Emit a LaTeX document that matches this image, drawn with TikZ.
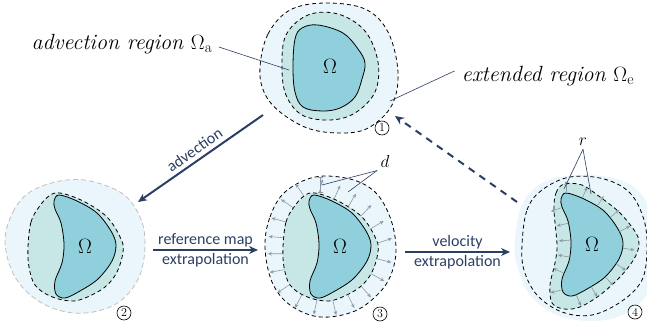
\documentclass[tikz,border=0pt]{standalone}
\usepackage{fontspec}
\setsansfont{Carlito}
\usetikzlibrary{arrows.meta,decorations.markings}

\definecolor{omegablue}{HTML}{8FD0DC}
\definecolor{ringteal}{HTML}{C7E6E6}
\definecolor{extblue}{HTML}{EAF6FB}
\definecolor{navy}{HTML}{2C3E64}
\definecolor{tickgray}{HTML}{8C99A6}

\begin{document}
\begin{tikzpicture}[x=1pt, y=-1pt]
  \tikzset{
    shape_extra/.style={},
    omega_fill/.style={fill=omegablue, draw=black, line width=0.8pt},
    ring_fill/.style={fill=ringteal, draw=black, line width=0.8pt, dash pattern=on 4pt off 3pt},
    ext_fill/.style={fill=extblue, draw=black, line width=0.8pt, dash pattern=on 4pt off 3pt},
    ext_gray/.style={fill=extblue, draw=black!25, line width=0.8pt, dash pattern=on 5pt off 3pt},
    flow_arrow/.style={navy, line width=2pt, -{Stealth[length=9pt, width=8pt]}},
    back_arrow/.style={flow_arrow, dash pattern=on 7pt off 6pt},
    label_line/.style={navy, line width=0.6pt},
    tick_arrow/.style={tickgray, line width=0.6pt, solid, -{Stealth[length=4pt, width=3.5pt]}},
    tick_marks/.style 2 args={postaction={decorate, decoration={markings,
      mark=between positions 0 and 0.99 step #1 with {\draw[tick_arrow] (0pt,0pt) -- (0pt,#2);}}}},
    region_label/.style={font=\itshape\fontsize{22}{24}\selectfont},
    omega_label/.style={font=\fontsize{21}{21}\selectfont},
    flow_label/.style={font=\sffamily\fontsize{16}{16}\selectfont, inner sep=2pt},
    step_num/.style={circle, draw=black, line width=0.6pt, inner sep=0pt, minimum size=14pt,
      font=\fontsize{12}{12}\selectfont},
    % shapes, relative to the centre of each panel
    top_omega/.pic={\path[pic actions, shape_extra] plot[smooth cycle, tension=0.6] coordinates {
      (-37,0) (-35,-28) (-28,-39) (-12,-42) (13,-34) (28,-18) (35,-4) (32,12)
      (25,30) (10,41) (-8,44) (-27,40) (-35,25)};},
    top_ring/.pic={\path[pic actions, shape_extra] plot[smooth cycle, tension=0.6] coordinates {
      (-48,0) (-44,-32) (-22,-52) (8,-53) (35,-36) (48,-5) (45,25) (25,46)
      (0,53) (-28,48) (-44,28)};},
    top_ext/.pic={\path[pic actions, shape_extra] plot[smooth cycle, tension=0.6] coordinates {
      (-70,0) (-62,-33) (-40,-57) (-5,-64) (35,-58) (58,-35) (68,5) (62,38)
      (40,60) (15,66) (-20,62) (-50,45) (-66,25)};},
    crescent/.pic={\path[pic actions, shape_extra] plot[smooth cycle, tension=0.55] coordinates {
      (-31,-46) (-26,-52) (-8,-46) (12,-34) (26,-16) (31,-2) (27,14) (13,32)
      (-5,44) (-20,51) (-29,47) (-30,34) (-23,16) (-21,-3) (-24,-24) (-30,-38)};},
    cres_ring/.pic={\path[pic actions, shape_extra] plot[smooth cycle, tension=0.6] coordinates {
      (-57,0) (-54,-25) (-46,-40) (-36,-51) (-25,-54) (-2,-46) (22,-30) (36,-8)
      (38,5) (32,25) (20,40) (0,51) (-15,54) (-35,49) (-50,38) (-56,20)};},
    cres_ext2/.pic={\path[pic actions, shape_extra] plot[smooth cycle, tension=0.6] coordinates {
      (-80,-5) (-72,-35) (-55,-55) (-25,-66) (5,-66) (38,-53) (55,-30) (60,-5)
      (56,25) (42,48) (20,62) (-12,66) (-45,55) (-70,30)};},
    cres_ext3/.pic={\path[pic actions, shape_extra] plot[smooth cycle, tension=0.6] coordinates {
      (-75,0) (-70,-30) (-55,-55) (-25,-70) (10,-68) (35,-55) (50,-30) (56,0)
      (52,25) (40,45) (15,64) (-20,70) (-50,58) (-68,35)};},
    p4_ring/.pic={\path[pic actions, shape_extra] plot[smooth cycle, tension=0.55] coordinates {
      (-38,-35) (-36,-52) (-28,-61) (-10,-60) (8,-48) (28,-32) (44,-12) (47,0)
      (42,14) (28,32) (8,50) (-12,62) (-28,64) (-40,58) (-42,40) (-37,18) (-35,0)};},
    p4_dash/.pic={\path[pic actions, shape_extra] plot[smooth cycle, tension=0.6] coordinates {
      (-70,0) (-65,-35) (-50,-55) (-22,-68) (12,-66) (38,-52) (52,-25) (55,5)
      (50,35) (30,56) (0,70) (-30,67) (-55,50) (-68,25)};},
    p4_ext/.pic={\path[pic actions, shape_extra] plot[smooth cycle, tension=0.6] coordinates {
      (-77,-5) (-70,-40) (-50,-62) (-15,-70) (25,-66) (50,-50) (62,-20) (65,20)
      (55,50) (30,70) (0,76) (-35,70) (-62,50) (-75,20)};}
  }
  \useasboundingbox (0,0) rectangle (647,329);

  % panel 1: initial state
  \pic[ext_fill] at (330,67) {top_ext};
  \pic[ring_fill] at (330,67) {top_ring};
  \pic[omega_fill] at (330,67) {top_omega};
  \node[omega_label] (om1) at (330,66) {$\Omega$};
  \node[step_num] (num1) at (382,128) {1};

  \node[region_label] (adv_lbl) at (122,44) {advection region $\Omega_{\mathrm{a}}$};
  \coordinate (adv_pt) at (289,70);
  \draw[label_line] ([xshift=3pt,yshift=-3pt]adv_lbl.east) -- (adv_pt);
  \node[region_label] (ext_lbl) at (548,76) {extended region $\Omega_{\mathrm{e}}$};
  \coordinate (ext_pt) at (390,101);
  \draw[label_line] ([xshift=-4pt,yshift=5pt]ext_lbl.west) -- (ext_pt);

  % panel 2: after advection
  \pic[ext_gray] at (85,247) {cres_ext2};
  \pic[ring_fill] at (85,247) {cres_ring};
  \pic[omega_fill] at (85,247) {crescent};
  \node[omega_label] (om2) at (85,246) {$\Omega$};
  \node[step_num] (num2) at (124,313) {2};

  % panel 3: reference map extrapolation
  \pic[ext_fill] at (340,247) {cres_ext3};
  \pic[ring_fill, shape_extra/.style={tick_marks={0.05}{15pt}}] at (340,247) {cres_ring};
  \pic[omega_fill] at (340,247) {crescent};
  \node[omega_label] (om3) at (340,246) {$\Omega$};
  \node[step_num] (num3) at (380,314) {3};
  \coordinate (d_top) at (320,177);
  \coordinate (d_bot) at (320,193);
  \draw[tickgray, line width=0.6pt, {Bar[width=5pt]}-{Bar[width=5pt]}] (d_bot) -- (d_top);
  \node[region_label, font=\itshape\fontsize{18}{18}\selectfont] (d_lbl) at (385,161) {$d$};
  \coordinate (d_pt1) at (322,185);
  \coordinate (d_pt2) at (348,192);
  \draw[label_line] (d_lbl.south west) -- (d_pt1);
  \draw[label_line] (d_lbl.south west) -- (d_pt2);

  % panel 4: velocity extrapolation
  \begin{scope}
    \clip (0,0) rectangle (647,329);
    \pic[fill=extblue] at (592,245) {p4_ext};
    \pic[draw=black, line width=0.8pt, dash pattern=on 4pt off 3pt] at (592,245) {p4_dash};
  \end{scope}
  \pic[ring_fill] at (592,245) {p4_ring};
  \pic[omega_fill, shape_extra/.style={tick_marks={0.0625}{12pt}}] at (592,245) {crescent};
  \node[omega_label] (om4) at (592,244) {$\Omega$};
  \node[step_num] (num4) at (635,312) {4};
  \node[region_label, font=\itshape\fontsize{18}{18}\selectfont] (r_lbl) at (583,142) {$r$};
  \coordinate (r_pt1) at (564,189);
  \coordinate (r_pt2) at (591,194);
  \draw[label_line] (r_lbl.south) -- (r_pt1);
  \draw[label_line] (r_lbl.south) -- (r_pt2);

  % arrows between the panels
  \coordinate (adv_start) at (263,115);
  \coordinate (adv_end) at (138,202);
  \draw[flow_arrow] (adv_start) -- node[flow_label, sloped, above=2pt] {advection} (adv_end);
  \coordinate (ref_start) at (153,250);
  \coordinate (ref_end) at (258,250);
  \draw[flow_arrow] (ref_start) -- node[flow_label, above] {reference map}
    node[flow_label, below] {extrapolation} (ref_end);
  \coordinate (vel_start) at (405,252);
  \coordinate (vel_end) at (510,252);
  \draw[flow_arrow] (vel_start) -- node[flow_label, above] {velocity}
    node[flow_label, below] {extrapolation} (vel_end);
  \coordinate (back_start) at (517,202);
  \coordinate (back_end) at (395,116);
  \draw[back_arrow] (back_start) -- (back_end);
\end{tikzpicture}
\end{document}
